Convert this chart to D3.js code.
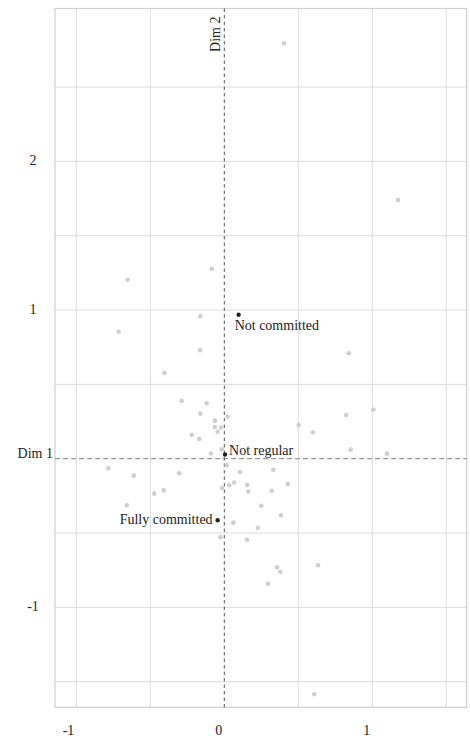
<!DOCTYPE html>
<html>
<head>
<meta charset="utf-8">
<script src="https://cdn.jsdelivr.net/npm/d3@7"></script>
<style>
  html, body { margin: 0; padding: 0; background: #fff; }
  svg { display: block; }
  text { font-family: "Liberation Serif", "Times New Roman", serif; fill: #222; }
</style>
</head>
<body>
<svg id="chart" width="470" height="738"></svg>
<script>
// Individual observations (Dim 1, Dim 2)
const pointX = [0.403, 1.174, -0.653, -0.085, -0.714, -0.162, -0.164, -0.405, 0.841, -0.288,
                -0.119, -0.162, -0.063, -0.063, -0.022, -0.045, 0.023, -0.220, -0.169, -0.017,
                -0.090, -0.784, 0.503, 0.016, 0.106, 0.331, 0.429, 0.155, 0.162, 0.320,
                0.066, 0.034, -0.016, 0.250, -0.612, -0.304, -0.473, -0.409, -0.659, -0.026,
                0.383, 0.061, 0.226, 0.153, 0.356, 0.378, 0.295, 0.633, 1.007, 0.824,
                0.599, 0.854, 1.099, 0.608];
const pointY = [2.794, 1.740, 1.204, 1.278, 0.854, 0.958, 0.729, 0.578, 0.709, 0.390,
                0.373, 0.303, 0.256, 0.213, 0.210, 0.181, 0.282, 0.161, 0.132, 0.064,
                0.035, -0.065, 0.227, -0.044, -0.089, -0.074, -0.171, -0.177, -0.221, -0.216,
                -0.160, -0.179, -0.197, -0.316, -0.114, -0.098, -0.235, -0.213, -0.313, -0.528,
                -0.381, -0.430, -0.465, -0.545, -0.730, -0.760, -0.841, -0.717, 0.330, 0.294,
                0.178, 0.061, 0.034, -1.584];

// Category points (supplementary)
const catNames = ["Not committed", "Not regular", "Fully committed"];
const catX = [0.097, 0.005, -0.045];
const catY = [0.968, 0.028, -0.414];
const catLabelPos = ["below", "right", "left"];

// Grid and tick values
const xGrid = [-1, -0.5, 0.5, 1, 1.5];
const yGrid = [-1.5, -1, -0.5, 0.5, 1, 1.5, 2, 2.5];
const xTickLabels = [-1, 0, 1];
const yTickLabels = [-1, 1, 2];

const W = 470, H = 738;
const margin = { top: 8.5, right: 3.3, bottom: 30.7, left: 55 };
const x = d3.scaleLinear().domain([-1.144, 1.638]).range([margin.left, W - margin.right]);
const y = d3.scaleLinear().domain([-1.672, 3.028]).range([H - margin.bottom, margin.top]);

const svg = d3.select("#chart");

// Grid lines
svg.append("g").selectAll("line").data(xGrid).join("line")
  .attr("x1", d => x(d)).attr("x2", d => x(d))
  .attr("y1", margin.top).attr("y2", H - margin.bottom)
  .attr("stroke", "#dcdcdc").attr("stroke-width", 1);
svg.append("g").selectAll("line").data(yGrid).join("line")
  .attr("y1", d => y(d)).attr("y2", d => y(d))
  .attr("x1", margin.left).attr("x2", W - margin.right)
  .attr("stroke", "#dcdcdc").attr("stroke-width", 1);

// Frame
svg.append("rect")
  .attr("x", margin.left).attr("y", margin.top)
  .attr("width", W - margin.left - margin.right)
  .attr("height", H - margin.top - margin.bottom)
  .attr("fill", "none").attr("stroke", "#cfcfcf").attr("stroke-width", 1.2);

// Zero axes
svg.append("line")
  .attr("x1", margin.left).attr("x2", W - margin.right)
  .attr("y1", y(0)).attr("y2", y(0))
  .attr("stroke", "#999").attr("stroke-width", 1.2).attr("stroke-dasharray", "5,3");
svg.append("line")
  .attr("x1", x(0)).attr("x2", x(0))
  .attr("y1", margin.top).attr("y2", H - margin.bottom)
  .attr("stroke", "#555").attr("stroke-width", 1).attr("stroke-dasharray", "3.5,3");

// Axis titles
svg.append("text")
  .attr("x", margin.left - 2).attr("y", y(0) - 1)
  .attr("text-anchor", "end").attr("font-size", 14)
  .text("Dim 1");
svg.append("text")
  .attr("transform", `translate(${x(0) - 4},${margin.top + 8}) rotate(-90)`)
  .attr("text-anchor", "end").attr("font-size", 14)
  .text("Dim 2");

// Tick labels
svg.append("g").selectAll("text").data(xTickLabels).join("text")
  .attr("x", d => x(d) - 2).attr("y", H - 3)
  .attr("text-anchor", "end").attr("font-size", 14)
  .text(d => d);
svg.append("g").selectAll("text").data(yTickLabels).join("text")
  .attr("x", 33).attr("y", d => y(d) + 4)
  .attr("text-anchor", "middle").attr("font-size", 14)
  .text(d => d);

// Observations
const pts = pointX.map((v, i) => ({ x: v, y: pointY[i] }));
svg.append("g").selectAll("circle").data(pts).join("circle")
  .attr("cx", d => x(d.x)).attr("cy", d => y(d.y)).attr("r", 2.3)
  .attr("fill", "#cfcfcf");

// Category points and labels
const cats = catNames.map((n, i) => ({ name: n, x: catX[i], y: catY[i], pos: catLabelPos[i] }));
svg.append("g").selectAll("circle").data(cats).join("circle")
  .attr("cx", d => x(d.x)).attr("cy", d => y(d.y)).attr("r", 2.2)
  .attr("fill", "#222");
svg.append("g").selectAll("text").data(cats).join("text")
  .attr("font-size", 14)
  .attr("x", d => d.pos === "left" ? x(d.x) - 5 : d.pos === "right" ? x(d.x) + 4 : x(d.x) - 4)
  .attr("y", d => d.pos === "below" ? y(d.y) + 15 : y(d.y) + (d.pos === "left" ? 4 : 0))
  .attr("text-anchor", d => d.pos === "left" ? "end" : "start")
  .text(d => d.name);
</script>
</body>
</html>
